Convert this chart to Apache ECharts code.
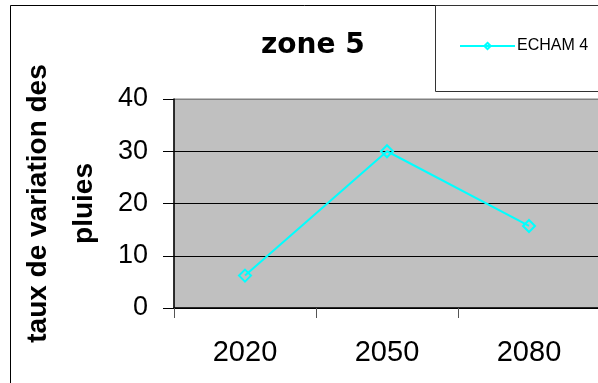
<!DOCTYPE html>
<html>
<head>
<meta charset="utf-8">
<script src="https://cdn.jsdelivr.net/npm/echarts@6/dist/echarts.min.js"></script>
<style>
  html, body { margin: 0; padding: 0; background: #fff; }
  #chart { width: 598px; height: 383px; }
</style>
</head>
<body>
<div id="chart"></div>
<script>
// Rainfall change rate, zone 5, ECHAM4 scenario
const years = ['2020', '2050', '2080'];
const echam4 = [6.2, 30, 15.7];
const yTicks = { min: 0, max: 40, interval: 10 };

const chart = echarts.init(document.getElementById('chart'), null, { renderer: 'canvas' });

const font = '"Liberation Sans", Arial, sans-serif';
const cyan = '#00FFFF';

chart.setOption({
  backgroundColor: '#fff',
  animation: false,
  title: {
    text: 'zone 5',
    left: 256,
    top: 27,
    textStyle: { fontFamily: '"DejaVu Sans", sans-serif', fontSize: 28, fontWeight: 'bold', color: '#000' }
  },
  legend: {
    data: ['ECHAM 4'],
    left: 459,
    top: 38,
    padding: 0,
    itemWidth: 55,
    itemHeight: 8,
    itemGap: 0,
    textStyle: { fontFamily: font, fontSize: 16, color: '#000', padding: [0, 0, 0, -3] }
  },
  graphic: [
    {
      type: 'rect',
      z: -1,
      shape: { x: 10.5, y: 5.5, width: 620, height: 420 },
      style: { fill: 'none', stroke: '#000', lineWidth: 1 }
    },
    {
      type: 'rect',
      z: -1,
      shape: { x: 435.5, y: 5.5, width: 200, height: 86 },
      style: { fill: '#fff', stroke: '#333', lineWidth: 1 }
    }
  ],
  grid: {
    left: 174,
    top: 99,
    right: -2,
    bottom: 75,
    containLabel: false,
    outerBoundsMode: 'none',
    show: true,
    backgroundColor: '#C0C0C0',
    borderColor: '#808080',
    borderWidth: 1
  },
  xAxis: {
    type: 'category',
    data: years,
    boundaryGap: true,
    axisLine: { show: true, lineStyle: { color: '#000', width: 1.5 } },
    axisTick: { show: true, inside: false, length: 10, lineStyle: { color: '#555', width: 1 } },
    axisLabel: { fontFamily: font, fontSize: 29, color: '#000', margin: 30 },
    splitLine: { show: false }
  },
  yAxis: {
    type: 'value',
    min: yTicks.min,
    max: yTicks.max,
    interval: yTicks.interval,
    name: 'taux de variation des\npluies',
    nameLocation: 'middle',
    nameRotate: 90,
    nameGap: 66,
    nameTextStyle: { fontFamily: font, fontSize: 28, fontWeight: 'bold', color: '#000', lineHeight: 46 },
    axisLine: { show: true, lineStyle: { color: '#000', width: 1.5 } },
    axisTick: { show: true, inside: false, length: 11, lineStyle: { color: '#000', width: 1 } },
    axisLabel: { fontFamily: font, fontSize: 27, color: '#000', margin: 26 },
    splitLine: { show: true, lineStyle: { color: ['#000', '#000', '#000', '#000', '#808080'], width: 1 } }
  },
  series: [
    {
      name: 'ECHAM 4',
      type: 'line',
      data: echam4,
      symbol: 'diamond',
      symbolSize: 12,
      showSymbol: true,
      lineStyle: { color: cyan, width: 2 },
      itemStyle: { color: 'transparent', borderColor: cyan, borderWidth: 2 }
    }
  ]
});
</script>
</body>
</html>
